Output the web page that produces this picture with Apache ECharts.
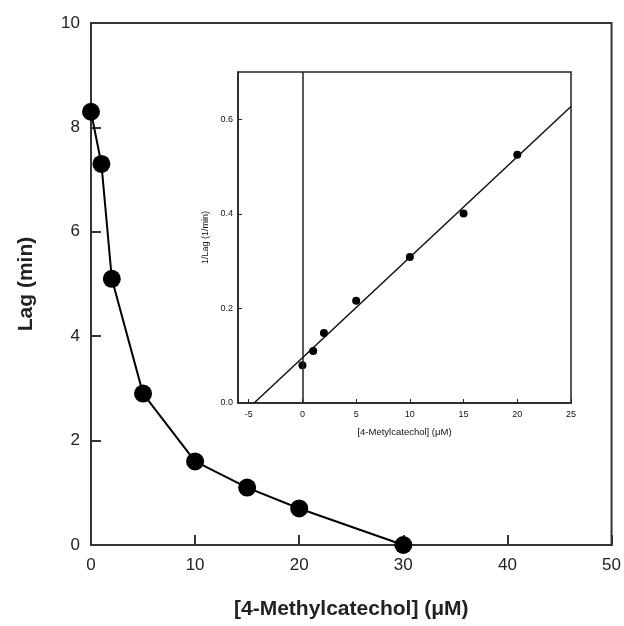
<!DOCTYPE html>
<html>
<head>
<meta charset="utf-8">
<script src="https://cdn.jsdelivr.net/npm/echarts@6/dist/echarts.min.js"></script>
<style>
  html, body { margin: 0; padding: 0; background: #fff; }
  #chart { width: 624px; height: 626px; }
</style>
</head>
<body>
<div id="chart"></div>
<script>
// Lag time versus 4-methylcatechol concentration
const concentration = [0, 1, 2, 5, 10, 15, 20, 30];
const lagMinutes = [8.3, 7.3, 5.1, 2.9, 1.6, 1.1, 0.7, 0];

// Reciprocal plot (inset)
const insetConcentration = [0, 1, 2, 5, 10, 15, 20];
const inverseLag = [0.080, 0.110, 0.148, 0.216, 0.309, 0.401, 0.525];

// Linear fit through the reciprocal data
const fitX = [-4.5, 25];
const fitY = [0, 0.627];

// Tick labels
const mainXTicks = [0, 10, 20, 30, 40, 50];
const mainYTicks = [0, 2, 4, 6, 8, 10];
const insetXTicks = [-5, 0, 5, 10, 15, 20, 25];
const insetYTicks = [0, 0.2, 0.4, 0.6];

const FONT = 'Liberation Sans, Arial, Helvetica, sans-serif';
const INK = '#222';

const chart = echarts.init(document.getElementById('chart'), null, { renderer: 'canvas' });

chart.setOption({
  animation: false,
  backgroundColor: '#fff',
  grid: [
    {
      left: 91, top: 23, width: 522, height: 522,
      show: true, borderColor: '#333', borderWidth: 2, backgroundColor: 'transparent'
    },
    {
      left: 238, top: 72, width: 333, height: 331,
      show: true, borderColor: INK, borderWidth: 1.5, backgroundColor: '#fff'
    }
  ],
  xAxis: [
    {
      gridIndex: 0, type: 'value', min: 0, max: 50, interval: 10,
      name: '[4-Methylcatechol] (\u03bcM)', nameLocation: 'middle', nameGap: 54,
      nameTextStyle: { fontFamily: FONT, fontSize: 21, fontWeight: 'bold', color: INK },
      axisLine: { show: true, onZero: false, lineStyle: { color: '#333', width: 2 } },
      axisTick: { show: true, inside: true, length: 10, lineStyle: { color: '#333', width: 2 } },
      axisLabel: {
        show: true, margin: 12, fontFamily: FONT, fontSize: 17, color: INK,
        customValues: mainXTicks, showMinLabel: true, showMaxLabel: true
      },
      splitLine: { show: false }
    },
    {
      gridIndex: 1, type: 'value', min: -6, max: 25,
      name: '[4-Metylcatechol] (\u03bcM)', nameLocation: 'middle', nameGap: 24,
      nameTextStyle: { fontFamily: FONT, fontSize: 9.5, color: '#111' },
      axisLine: { show: true, onZero: false, lineStyle: { color: INK, width: 1.5 } },
      axisTick: { show: true, inside: true, length: 4, customValues: insetXTicks, lineStyle: { color: INK, width: 1 } },
      axisLabel: {
        show: true, margin: 7, fontFamily: FONT, fontSize: 9, color: '#111',
        customValues: insetXTicks
      },
      splitLine: { show: false }
    }
  ],
  yAxis: [
    {
      gridIndex: 0, type: 'value', min: 0, max: 10, interval: 2,
      name: 'Lag (min)', nameLocation: 'middle', nameGap: 54,
      nameTextStyle: { fontFamily: FONT, fontSize: 21, fontWeight: 'bold', color: INK },
      axisLine: { show: true, onZero: false, lineStyle: { color: '#333', width: 2 } },
      axisTick: { show: true, inside: true, length: 10, lineStyle: { color: '#333', width: 2 } },
      axisLabel: {
        show: true, margin: 11, fontFamily: FONT, fontSize: 17, color: INK,
        customValues: mainYTicks
      },
      splitLine: { show: false }
    },
    {
      gridIndex: 1, type: 'value', min: 0, max: 0.7,
      name: '1/Lag (1/min)', nameLocation: 'middle', nameGap: 26,
      nameTextStyle: { fontFamily: FONT, fontSize: 9, color: '#111' },
      axisLine: { show: true, onZero: false, lineStyle: { color: INK, width: 1.5 } },
      axisTick: { show: true, inside: true, length: 4, customValues: insetYTicks, lineStyle: { color: INK, width: 1 } },
      axisLabel: {
        show: true, margin: 5, fontFamily: FONT, fontSize: 9, color: '#111',
        customValues: insetYTicks,
        formatter: v => Number(v).toFixed(1)
      },
      splitLine: { show: false }
    }
  ],
  series: [
    {
      type: 'line', xAxisIndex: 0, yAxisIndex: 0,
      data: concentration.map((x, i) => [x, lagMinutes[i]]),
      symbol: 'circle', symbolSize: 18, clip: false,
      itemStyle: { color: '#000', opacity: 1 },
      lineStyle: { color: '#000', width: 2 },
      z: 3
    },
    {
      type: 'line', xAxisIndex: 1, yAxisIndex: 1,
      data: fitX.map((x, i) => [x, fitY[i]]),
      symbol: 'none', clip: true,
      lineStyle: { color: '#111', width: 1.5 },
      markLine: {
        silent: true, symbol: 'none', label: { show: false },
        lineStyle: { color: INK, width: 1.5, type: 'solid' },
        data: [{ xAxis: 0 }]
      },
      z: 3
    },
    {
      type: 'scatter', xAxisIndex: 1, yAxisIndex: 1,
      data: insetConcentration.map((x, i) => [x, inverseLag[i]]),
      symbol: 'circle', symbolSize: 8,
      itemStyle: { color: '#000', opacity: 1 },
      z: 4
    }
  ]
});
</script>
</body>
</html>
